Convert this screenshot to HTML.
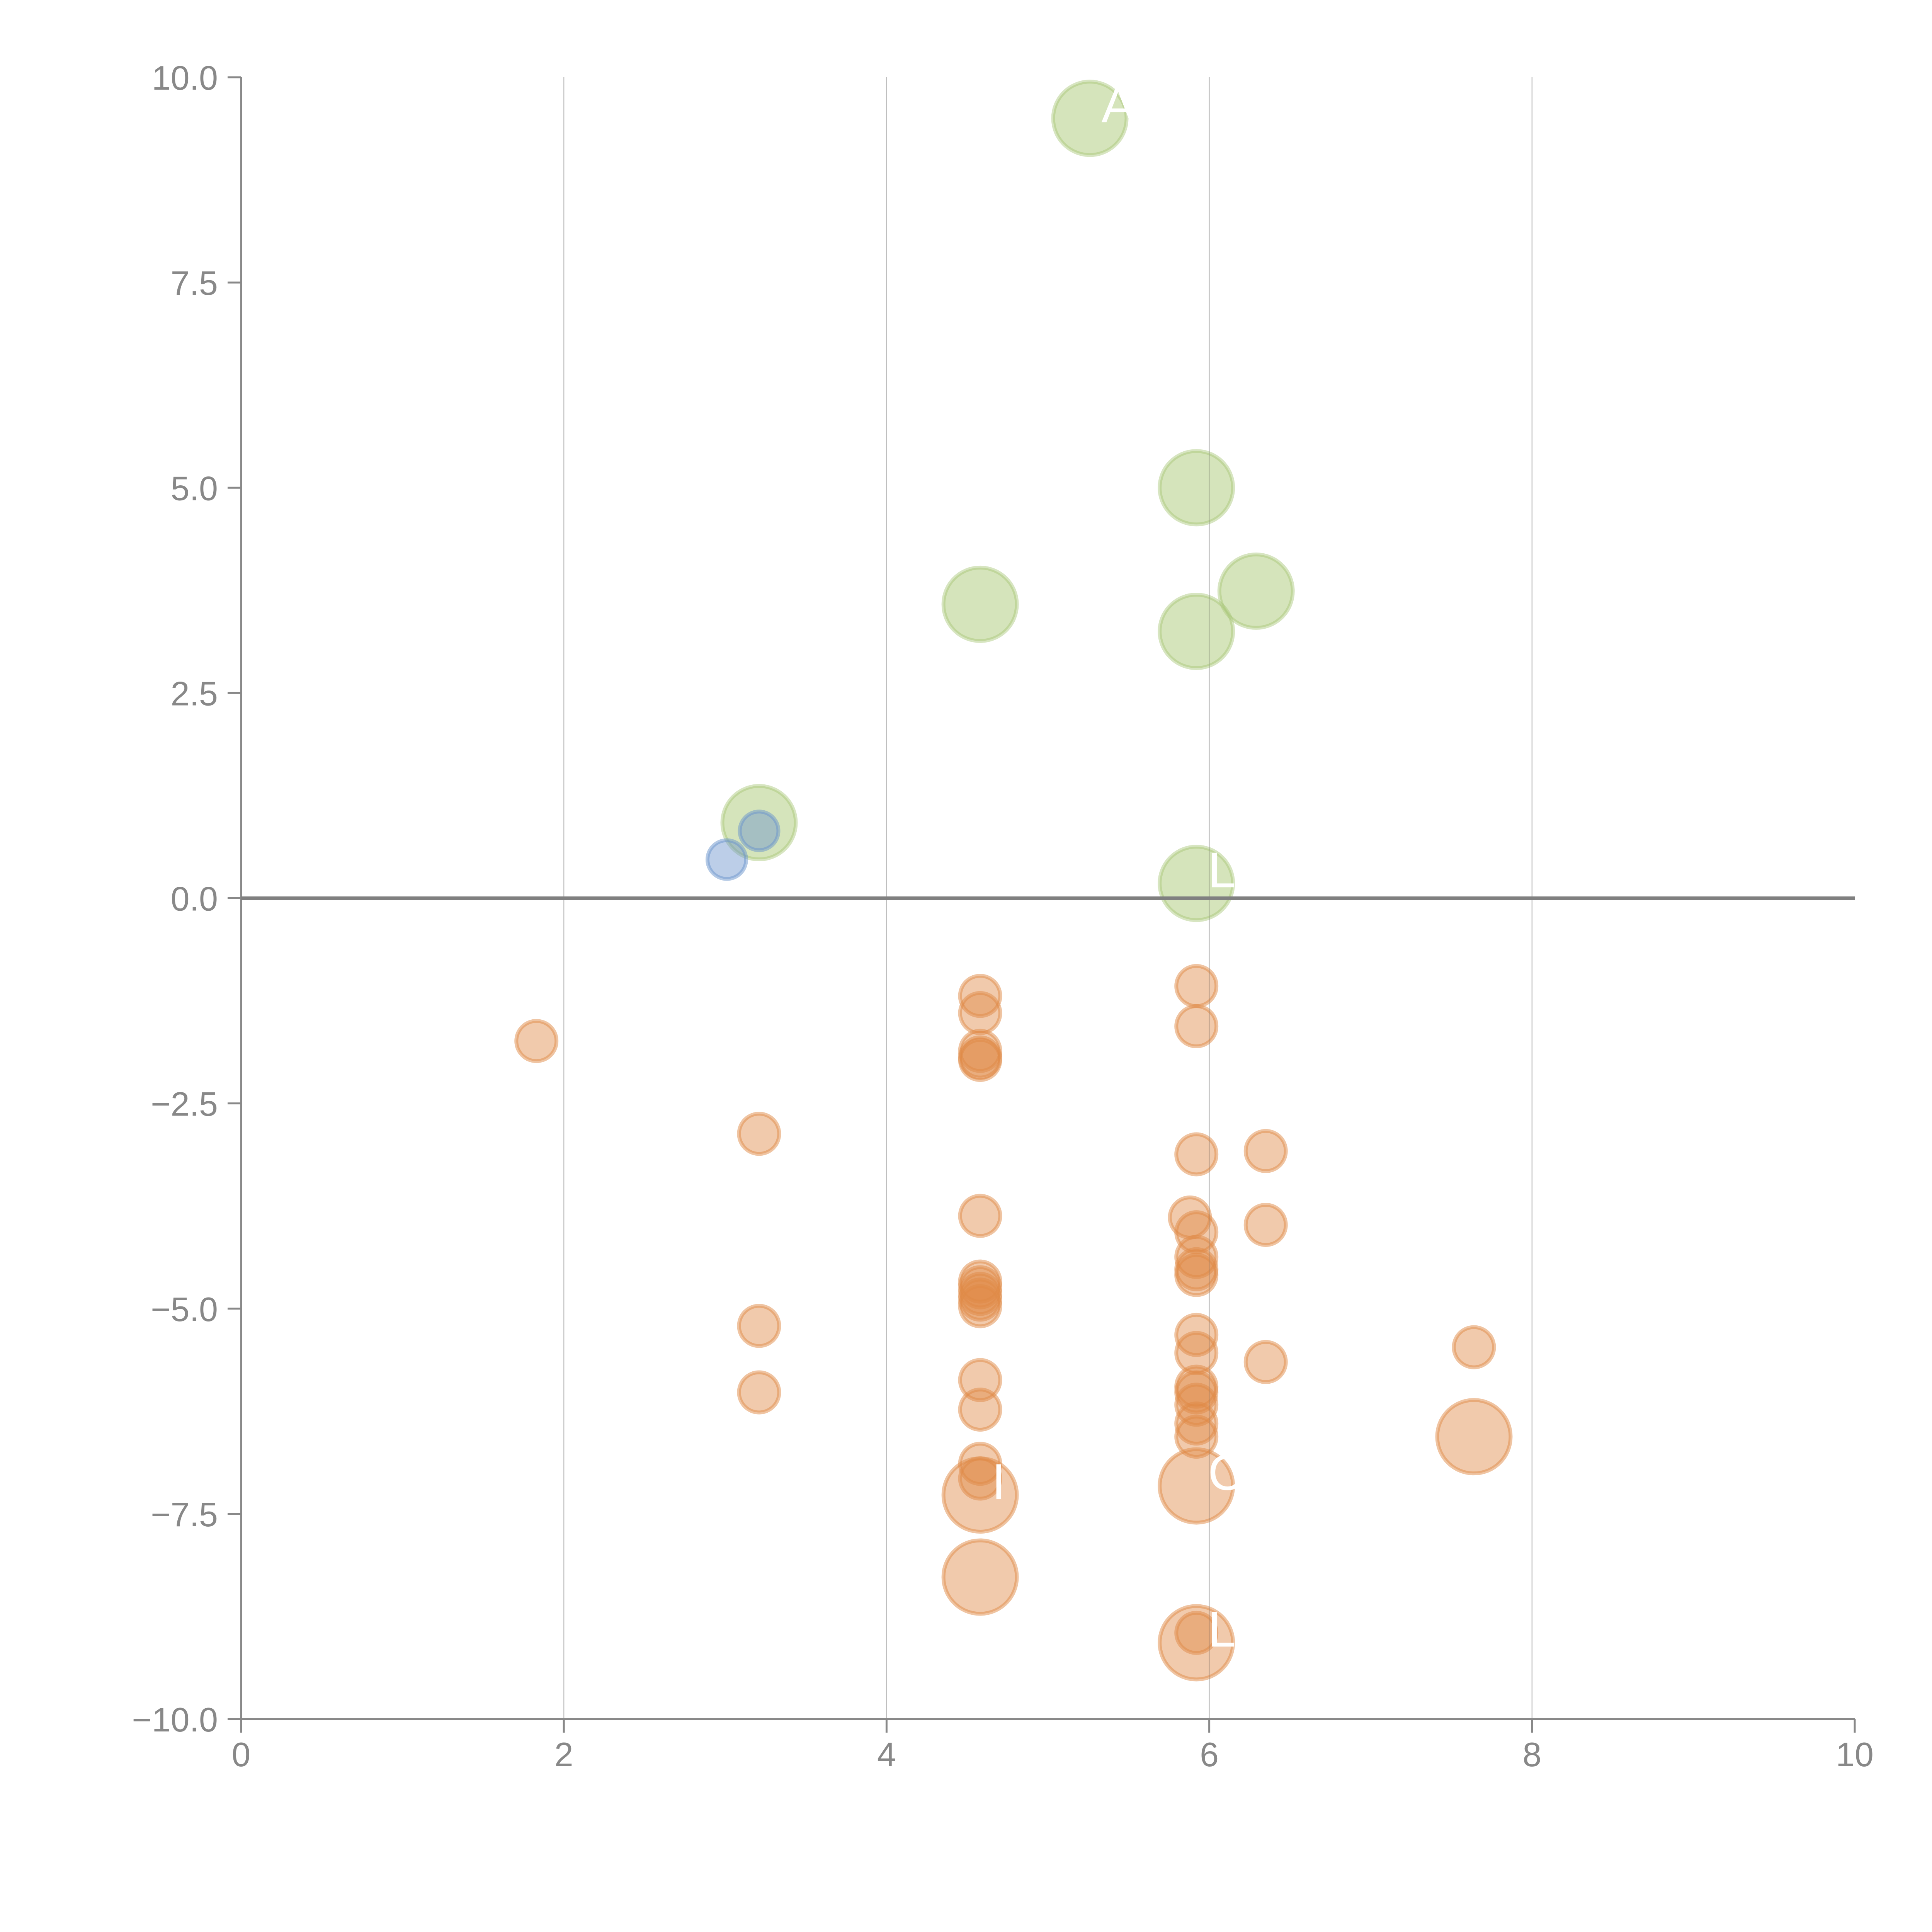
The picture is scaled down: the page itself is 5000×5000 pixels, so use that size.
<!DOCTYPE html>
<html><head><meta charset="utf-8"><style>
html,body{margin:0;padding:0;background:#fff;}
svg{display:block;font-family:"Liberation Sans",Arial,sans-serif;}
</style></head><body>
<svg id="chart" width="5000" height="5000" viewBox="0 0 5000 5000" xmlns="http://www.w3.org/2000/svg">
<g id="grid"></g>
<g id="bubbles"></g>
<g id="gridTop"></g>
<g id="axes"></g>
</svg>
<script>
const xTicks = [0, 2, 4, 6, 8, 10];
const xTickLabels = ["0", "2", "4", "6", "8", "10"];
const yTicks = [10, 7.5, 5, 2.5, 0, -2.5, -5, -7.5, -10];
const yTickLabels = ["10.0", "7.5", "5.0", "2.5", "0.0", "\u22122.5", "\u22125.0", "\u22127.5", "\u221210.0"];

const greenX = [5.26, 5.92, 4.58, 6.29, 5.92, 3.21, 5.92];
const greenY = [9.5, 5.0, 3.58, 3.74, 3.25, 0.92, 0.18];
const greenLabels = ["A", "", "", "", "", "", "L"];

const blueX = [3.01, 3.21];
const blueY = [0.47, 0.82];

const orangeSmallX = [1.83, 3.21, 3.21, 3.21,
  4.58, 4.58, 4.58, 4.58, 4.58, 4.58, 4.58, 4.58, 4.58, 4.58, 4.58, 4.58, 4.58, 4.58, 4.58,
  5.92, 5.92, 5.92, 5.88, 5.92, 5.92, 5.92, 5.92, 5.92, 5.92, 5.92, 5.92, 5.92, 5.92, 5.92, 5.92,
  6.35, 6.35, 6.35, 7.64];
const orangeSmallY = [-1.74, -2.87, -5.21, -6.02,
  -1.19, -1.40, -1.86, -1.94, -1.97, -3.87, -4.67, -4.74, -4.82, -4.89, -4.97, -5.87, -6.23, -6.89, -7.07,
  -1.07, -1.56, -3.12, -3.89, -4.07, -4.37, -4.52, -4.59, -5.32, -5.54, -5.95, -6.02, -6.17, -6.40, -6.56, -8.95,
  -3.08, -3.98, -5.65, -5.47];

const orangeBigX = [4.58, 4.58, 5.92, 5.92, 7.64];
const orangeBigY = [-7.27, -8.27, -7.16, -9.07, -6.56];
const orangeBigLabels = ["I", "", "C", "L", ""];

const X0 = 624, X1 = 4800, Y0 = 4449, Y1 = 200;
function sx(v){ return X0 + (v - 0) / 10 * (X1 - X0); }
function sy(v){ return Y0 - (v + 10) / 20 * (Y0 - Y1); }
const NS = "http://www.w3.org/2000/svg";
function mk(tag, attrs, parent){
  const e = document.createElementNS(NS, tag);
  for (const k in attrs) e.setAttribute(k, attrs[k]);
  parent.appendChild(e);
  return e;
}
const grid = document.getElementById('grid');
const gridTop = document.getElementById('gridTop');
const bub = document.getElementById('bubbles');
const axes = document.getElementById('axes');

xTicks.forEach((t, i) => {
  if (t === 0 || t === 10) return;
  const l = mk('line', {x1: sx(t), x2: sx(t), y1: Y1, y2: Y0, stroke: '#dcdcdc', 'stroke-width': 3}, grid);
  
  
  const l2 = mk('line', {x1: sx(t), x2: sx(t), y1: Y1, y2: Y0, stroke: '#777', 'stroke-width': 1.5, 'stroke-opacity': 0.35}, gridTop);
  
  
});

function bubble(x, y, r, fill, stroke, fo, so, name){
  const c = mk('circle', {cx: sx(x), cy: sy(y), r: r, fill: fill, 'fill-opacity': fo, stroke: stroke, 'stroke-opacity': so, 'stroke-width': 10}, bub);
  
  
  return c;
}
function label(x, y, txt){
  if (!txt) return;
  const t = mk('text', {x: sx(x) + 30, y: sy(y) + 10, fill: '#fff', 'font-size': 130}, bub);
  t.textContent = txt;
  
  
}
orangeSmallX.forEach((x, i) => bubble(x, orangeSmallY[i], 52, '#e08a46', '#e08a46', 0.45, 0.5, 'orange-bubble'));
orangeBigX.forEach((x, i) => { bubble(x, orangeBigY[i], 95, '#e08a46', '#e08a46', 0.45, 0.5, 'orange-bubble-large'); label(x, orangeBigY[i], orangeBigLabels[i]); });
greenX.forEach((x, i) => { bubble(x, greenY[i], 95, '#b2cd84', '#a6c676', 0.55, 0.45, 'green-bubble'); label(x, greenY[i], greenLabels[i]); });
blueX.forEach((x, i) => bubble(x, blueY[i], 50, '#6a93cc', '#6a93cc', 0.45, 0.5, 'blue-bubble'));

const ya = mk('line', {x1: X0, x2: X0, y1: Y1, y2: Y0 + 35, stroke: '#888', 'stroke-width': 5}, axes);
 
const xa = mk('line', {x1: X0 - 35, x2: X1, y1: Y0, y2: Y0, stroke: '#888', 'stroke-width': 5}, axes);
 
const zl = mk('line', {x1: X0, x2: X1, y1: sy(0), y2: sy(0), stroke: '#808080', 'stroke-width': 9}, axes);
 

xTicks.forEach((t, i) => {
  const tk = mk('line', {x1: sx(t), x2: sx(t), y1: Y0, y2: Y0 + 35, stroke: '#888', 'stroke-width': 5}, axes);
   
  const tx = mk('text', {x: sx(t), y: Y0 + 122, 'text-anchor': 'middle', fill: '#888', 'font-size': 88}, axes);
  tx.textContent = xTickLabels[i];
   
});
yTicks.forEach((t, i) => {
  const tk = mk('line', {x1: X0 - 35, x2: X0, y1: sy(t), y2: sy(t), stroke: '#888', 'stroke-width': 5}, axes);
   
  const tx = mk('text', {x: X0 - 60, y: sy(t) + 32, 'text-anchor': 'end', fill: '#888', 'font-size': 88}, axes);
  tx.textContent = yTickLabels[i];
   
});
</script>
</body></html>
